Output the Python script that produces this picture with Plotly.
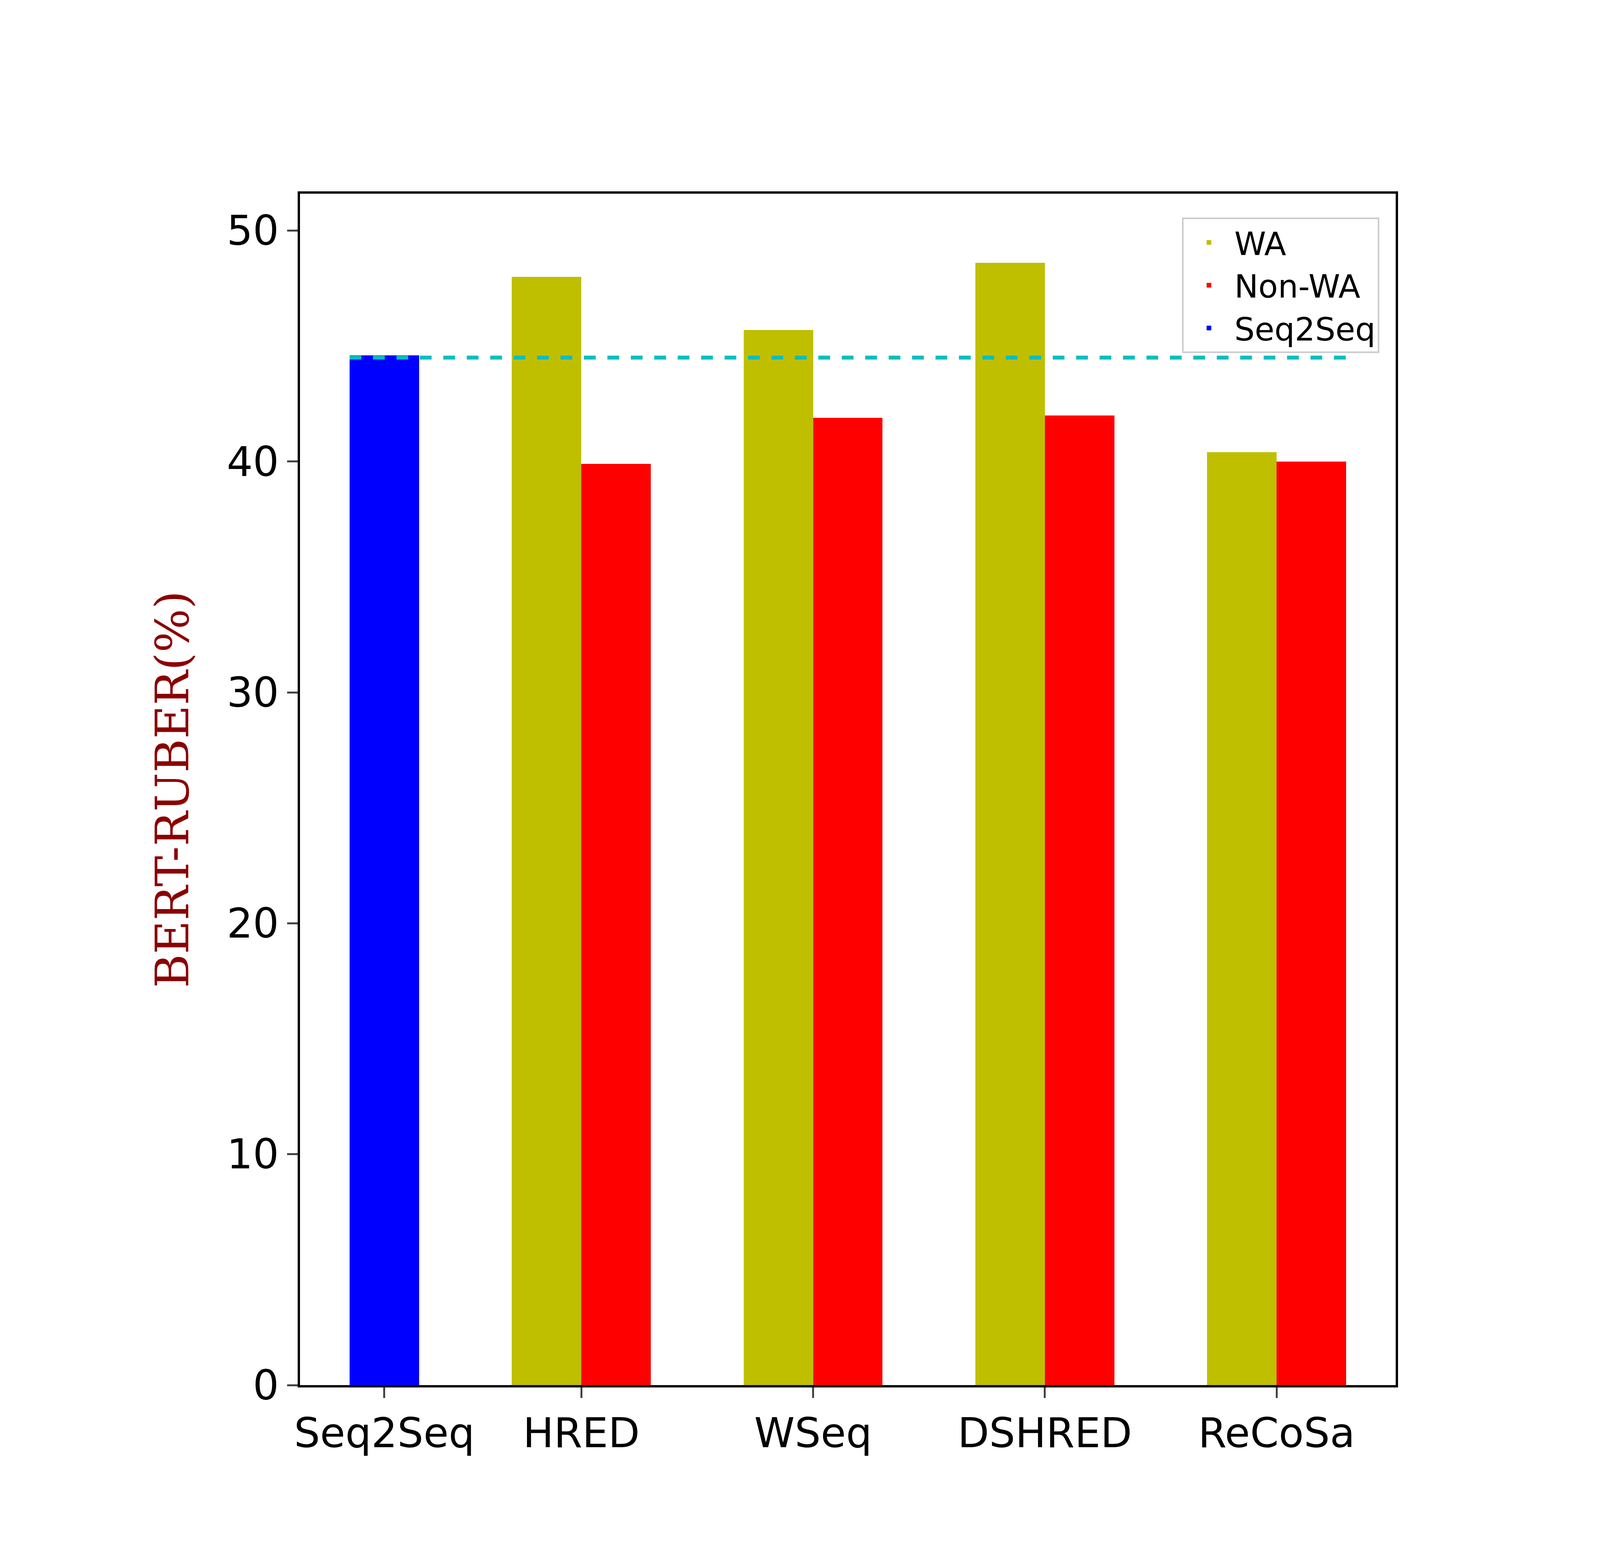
import plotly.graph_objects as go

models = ["HRED", "WSeq", "DSHRED", "ReCoSa"]
wa = [48.0, 45.7, 48.6, 40.4]
non_wa = [39.9, 41.9, 42.0, 40.0]
seq2seq = 44.6
baseline = 44.5
tick_labels = ["Seq2Seq", "HRED", "WSeq", "DSHRED", "ReCoSa"]

pos = [1, 2, 3, 4]
seq_pos = 0.15
w = 0.3

fig = go.Figure()
fig.add_bar(x=[p - w / 2 for p in pos], y=wa, width=w, name="WA",
            marker=dict(color="#bfbf00", line=dict(width=0)))
fig.add_bar(x=[p + w / 2 for p in pos], y=non_wa, width=w, name="Non-WA",
            marker=dict(color="#ff0000", line=dict(width=0)))
fig.add_bar(x=[seq_pos], y=[seq2seq], width=w, name="Seq2Seq",
            marker=dict(color="#0000ff", line=dict(width=0)))
fig.add_scatter(x=[0.0, 4.3], y=[baseline, baseline], mode="lines",
                line=dict(color="#00bfbf", dash="dash", width=10), showlegend=False)

fig.update_layout(
    autosize=True,
    plot_bgcolor="white", paper_bgcolor="white",
    margin=dict(l=760, r=531, t=488, b=461),
    font=dict(family="DejaVu Sans", size=105, color="black"),
    bargap=0,
    legend=dict(x=0.985, y=0.98, xanchor="right", yanchor="top",
                bgcolor="rgba(255,255,255,0.8)", bordercolor="#cccccc", borderwidth=4,
                font=dict(size=82), itemwidth=120, traceorder="normal"),
)
fig.update_xaxes(range=[-0.214, 4.514], tickvals=[seq_pos] + pos, ticktext=tick_labels,
                 showline=True, linecolor="black", linewidth=6, mirror=True,
                 ticks="outside", ticklen=27, tickwidth=5, showgrid=False, zeroline=False)
fig.update_yaxes(range=[0, 51.6], tickvals=[0, 10, 20, 30, 40, 50],
                 showline=True, linecolor="black", linewidth=6, mirror=True,
                 ticks="outside", ticklen=27, tickwidth=5, showgrid=False, zeroline=False,
                 title=dict(text="BERT-RUBER(%)", font=dict(family="DejaVu Serif", size=118, color="#8b0000"),
                            standoff=60))

fig.write_html("out.html", default_width="100vw", default_height="100vh")
